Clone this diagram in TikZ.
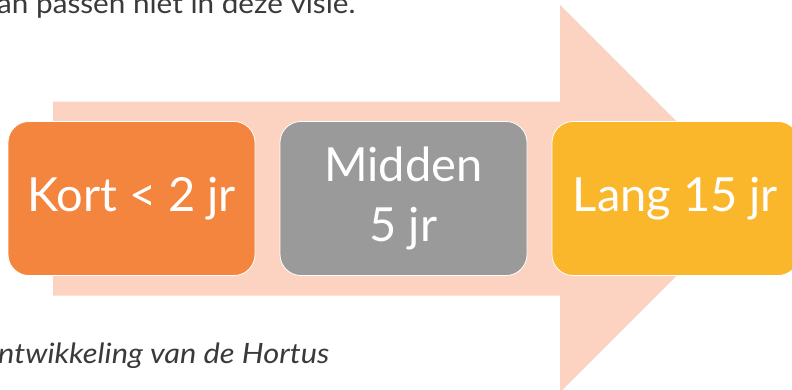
\documentclass[tikz,border=0pt]{standalone}
\usepackage{fontspec}
\setmainfont{Lato}
\definecolor{arrowc}{HTML}{FCD3C1}
\definecolor{orangec}{HTML}{F4853E}
\definecolor{grayc}{HTML}{999A99}
\definecolor{yellowc}{HTML}{FBB72C}
\definecolor{textc}{HTML}{3A3A3A}
\tikzset{
  stepbox/.style={draw=white, line width=0.8pt, rounded corners=21pt, minimum width=247pt, minimum height=154pt, inner sep=0pt, text=white, font=\fontsize{47}{60}\selectfont, align=center},
  prose/.style={anchor=base west, inner sep=0pt, text=textc, font=\fontsize{28}{30}\selectfont\addfontfeatures{FakeStretch=1.06}}
}
\begin{document}
\begin{tikzpicture}[x=1pt,y=-1pt]
\useasboundingbox (0,0) rectangle (792,389);
\clip (0,0) rectangle (792,389);
\fill[arrowc] (53,101.7) -- (560,101.7) -- (560,5) -- (753.7,198.7) -- (560,392.4) -- (560,295.7) -- (53,295.7) -- cycle;
\node[stepbox, fill=orangec] (kort) at (131.5,198.5) {Kort < 2 jr};
\node[stepbox, fill=grayc] (midden) at (403.5,198.5) {Midden\hspace{14pt}\\5 jr};
\node[stepbox, fill=yellowc] (lang) at (675.5,198.5) {Lang 15 jr};
\node[prose] (top) at (-3,13) {an passen niet in deze visie.};
\node[prose, font=\fontsize{28}{30}\selectfont\itshape\addfontfeatures{FakeStretch=1.1}] (cap) at (-2,363) {ntwikkeling van de Hortus};
\end{tikzpicture}
\end{document}
